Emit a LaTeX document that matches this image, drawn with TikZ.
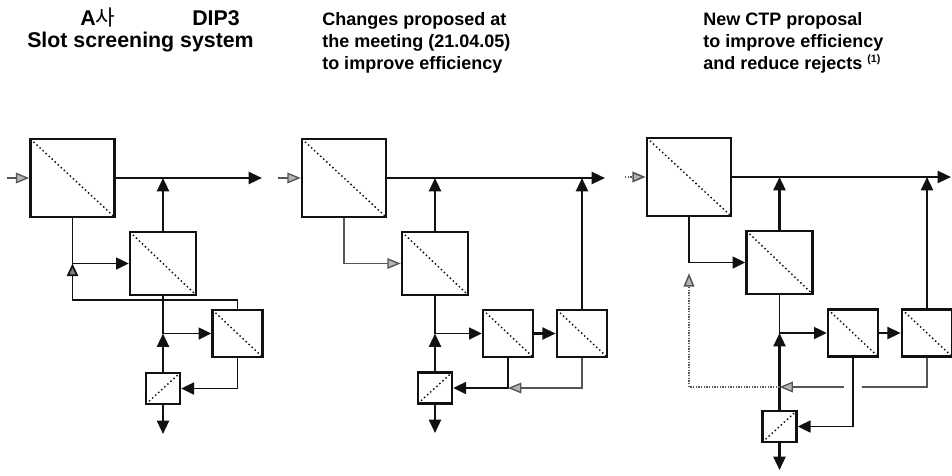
\documentclass[tikz,border=0pt]{standalone}
\usepackage{fontspec}
\setmainfont{Liberation Sans}
\newfontfamily\cjkfont{Noto Sans CJK KR}
\usepackage{xcolor}
\usetikzlibrary{arrows.meta,positioning}
\definecolor{lnblack}{HTML}{111111}
\definecolor{lngray}{HTML}{555555}
\definecolor{tipgray}{HTML}{B4B4B4}

\begin{document}
\begin{tikzpicture}[x=0.75pt, y=-0.75pt,
  unit/.style={rectangle, draw=lnblack, line width=2pt, fill=white, inner sep=0pt,
               path picture={\draw[lnblack, line width=1.1pt, dotted]
               (path picture bounding box.north west) -- (path picture bounding box.south east);}},
  unitrev/.style={rectangle, draw=lnblack, line width=2pt, fill=white, inner sep=0pt,
               path picture={\draw[lnblack, line width=1.1pt, dotted]
               (path picture bounding box.south west) -- (path picture bounding box.north east);}},
  bigbox/.style={unit, minimum width=63pt, minimum height=58.5pt},
  midbox/.style={unit, minimum width=49.5pt, minimum height=47.25pt},
  smallbox/.style={unit, minimum width=37.5pt, minimum height=35.25pt},
  tinybox/.style={unitrev, minimum width=25.5pt, minimum height=23.25pt},
  main/.style={-{Triangle[length=10pt, width=9pt]}, line width=1.7pt, draw=lnblack},
  arr/.style={-{Triangle[length=9.5pt, width=9pt]}, line width=1.3pt, draw=lnblack},
  hol/.style={-{Triangle[length=10pt, width=8pt, fill=tipgray]}, line width=1pt, draw=lngray},
  holdark/.style={-{Triangle[length=9.5pt, width=8.5pt, fill=gray]}, line width=1.3pt, draw=lnblack},
  ttl/.style={font=\bfseries\fontsize{13.5}{16.5}\selectfont, anchor=base west, inner sep=0pt},
  ttlbig/.style={font=\bfseries\fontsize{16}{18}\selectfont, anchor=base west, inner sep=0pt},
]
  \useasboundingbox (0,0) rectangle (952,475);

  \node[ttlbig] (t1a) at (80,25) {A{\cjkfont\mdseries 사}};
  \node[ttlbig] (t1b) at (192,25) {DIP3};
  \node[ttlbig] (t1c) at (27,47) {Slot screening system};
  \node[ttl] (t2a) at (322,25) {Changes proposed at};
  \node[ttl] (t2b) at (322,47) {the meeting (21.04.05)};
  \node[ttl] (t2c) at (322,69) {to improve efficiency};
  \node[ttl] (t3a) at (703,25) {New CTP proposal};
  \node[ttl] (t3b) at (703,47) {to improve efficiency};
  \node[ttl] (t3c) at (703,69) {and reduce rejects \textsuperscript{\fontsize{8}{9}\selectfont(1)}};

  \coordinate (in1) at (7,178);
  \coordinate (out1) at (262,178);
  \coordinate (bot1) at (163,434);
  \coordinate (in2) at (278,178);
  \coordinate (out2) at (605,178);
  \coordinate (bot2) at (435,433);
  \coordinate (in3) at (625,177);
  \coordinate (out3) at (951,177);
  \coordinate (bot3) at (779.5,470);
  \coordinate (r3) at (779.5,387);

  \node[bigbox] (A1) at (72.5,178) {};
  \node[midbox] (B1) at (163,263.5) {};
  \node[smallbox] (C1) at (237.5,333.5) {};
  \node[tinybox] (D1) at (163,388.5) {};

  \node[bigbox] (A2) at (344,178) {};
  \node[midbox] (B2) at (435,263.5) {};
  \node[smallbox] (C2) at (508,333.5) {};
  \node[smallbox] (E2) at (582,333.5) {};
  \node[tinybox] (D2) at (435,388) {};

  \node[bigbox] (A3) at (689,177) {};
  \node[midbox] (B3) at (779.5,262.5) {};
  \node[smallbox] (C3) at (853,333) {};
  \node[smallbox] (E3) at (927,333) {};
  \node[tinybox] (D3) at (779.5,426.5) {};

  \draw[hol] (in1) -- (A1.west);
  \draw[main] (A1.east) -- (out1);
  \draw[main] (B1.north) -- (B1.north |- A1.east);
  \draw[arr] (A1.south) |- (B1.west);
  \draw[holdark] (C1.north) -- ++(0,-9) -| (A1.south |- B1.west);
  \draw[arr] (B1.south) |- (C1.west);
  \draw[main] (D1.north) -- (D1.north |- C1.west);
  \draw[arr] (C1.south) |- (D1.east);
  \draw[main] (D1.south) -- (bot1);

  \draw[hol] (in2) -- (A2.west);
  \draw[main] (A2.east) -- (out2);
  \draw[main] (B2.north) -- (B2.north |- A2.east);
  \draw[main] (E2.north) -- (E2.north |- A2.east);
  \draw[hol] (A2.south) |- (B2.west);
  \draw[arr] (B2.south) |- (C2.west);
  \draw[main] (C2.east) -- (E2.west);
  \draw[main] (D2.north) -- (D2.north |- C2.west);
  \draw[arr] (C2.south) |- (D2.east);
  \draw[hol] (E2.south) |- (C2.south |- D2.east);
  \draw[main] (D2.south) -- (bot2);

  \draw[hol, densely dotted, line width=1.2pt] (in3) -- (A3.west);
  \draw[main] (A3.east) -- (out3);
  \draw[main] (B3.north) -- (B3.north |- A3.east);
  \draw[main] (E3.north) -- (E3.north |- A3.east);
  \draw[arr] (A3.south) |- (B3.west);
  \draw[arr] (B3.south) |- (C3.west);
  \draw[main] (C3.east) -- (E3.west);
  \draw[main] (D3.north) -- (D3.north |- C3.west);
  \draw[arr] (C3.south) |- (D3.east);
  \draw[line width=1pt, draw=lngray] (E3.south) |- ([xshift=7pt]C3.south |- r3);
  \draw[hol] ([xshift=-7pt]C3.south |- r3) -- (r3);
  \draw[hol, densely dotted, line width=1.1pt] (r3) -| ([yshift=-8pt]A3.south |- B3.west);
  \draw[main] (D3.south) -- (bot3);
\end{tikzpicture}
\end{document}
